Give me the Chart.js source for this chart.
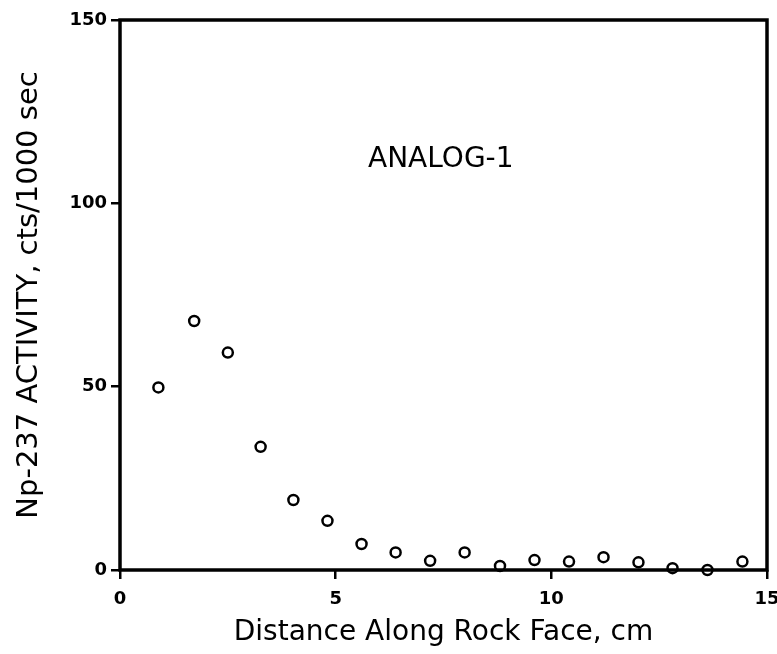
<!DOCTYPE html>
<html>
<head>
<meta charset="utf-8">
<script src="https://cdn.jsdelivr.net/npm/chart.js@4"></script>
<style>
  body { margin: 0; background: #fff; }
  #wrap { width: 777px; height: 654px; }
</style>
</head>
<body>
<div id="wrap"><canvas id="activityChart" width="777" height="654"></canvas></div>
<script>
// Data
const distanceCm = [0.89, 1.72, 2.5, 3.26, 4.02, 4.81, 5.6, 6.39, 7.19, 7.99, 8.81, 9.61, 10.41, 11.21, 12.02, 12.81, 13.62, 14.43];
const activity = [49.8, 67.9, 59.3, 33.6, 19.1, 13.4, 7.1, 4.8, 2.5, 4.8, 1.1, 2.7, 2.3, 3.5, 2.1, 0.5, 0, 2.3];
const xTicks = [0, 5, 10, 15];
const yTicks = [0, 50, 100, 150];
const sampleLabel = "ANALOG-1";

const FONT = "'DejaVu Sans', sans-serif";

// Frame round the plot area plus the sample label
const framePlugin = {
  id: "frame",
  afterDraw(chart) {
    const { ctx, chartArea, scales } = chart;
    ctx.save();
    ctx.strokeStyle = "#000";
    ctx.lineWidth = 3.5;
    ctx.strokeRect(chartArea.left, chartArea.top, chartArea.right - chartArea.left, chartArea.bottom - chartArea.top);

    ctx.fillStyle = "#000";
    ctx.font = "28px " + FONT;
    ctx.textAlign = "left";
    ctx.textBaseline = "middle";
    ctx.fillText(sampleLabel, scales.x.getPixelForValue(5.75), scales.y.getPixelForValue(112));
    ctx.restore();
  },
};

const points = distanceCm.map((x, i) => ({ x: x, y: activity[i] }));

new Chart(document.getElementById("activityChart"), {
  type: "scatter",
  data: {
    datasets: [
      {
        data: points,
        pointStyle: "circle",
        pointRadius: 5,
        pointBorderWidth: 2.5,
        pointBorderColor: "#000",
        pointBackgroundColor: "#fff",
        clip: false,
      },
    ],
  },
  options: {
    responsive: false,
    animation: false,
    layout: { padding: { top: 20, right: 10, left: 0, bottom: 0 } },
    plugins: {
      legend: { display: false },
      tooltip: { enabled: false },
    },
    scales: {
      x: {
        type: "linear",
        min: 0,
        max: 15,
        afterBuildTicks: (axis) => { axis.ticks = xTicks.map((v) => ({ value: v })); },
        afterFit: (axis) => {
          axis.height = 84;
          axis.paddingRight = 0;
          axis.paddingLeft = 0;
        },
        ticks: { color: "#000", font: { family: FONT, size: 18, weight: "bold" }, padding: 10 },
        grid: { drawOnChartArea: false, drawTicks: true, tickLength: 9, color: "#000", lineWidth: 2.5 },
        border: { display: false },
        title: {
          display: true,
          text: "Distance Along Rock Face, cm",
          color: "#000",
          font: { family: FONT, size: 28 },
          padding: { top: 0 },
        },
      },
      y: {
        type: "linear",
        min: 0,
        max: 150,
        afterBuildTicks: (axis) => { axis.ticks = yTicks.map((v) => ({ value: v })); },
        afterFit: (axis) => {
          axis.width = 120;
          axis.paddingTop = 0;
        },
        ticks: { color: "#000", font: { family: FONT, size: 18, weight: "bold" }, padding: 4 },
        grid: { drawOnChartArea: false, drawTicks: true, tickLength: 9, color: "#000", lineWidth: 2.5 },
        border: { display: false },
        title: {
          display: true,
          text: "Np-237 ACTIVITY, cts/1000 sec",
          color: "#000",
          font: { family: FONT, size: 29 },
          padding: { top: 12, bottom: 4 },
        },
      },
    },
  },
  plugins: [framePlugin],
});
</script>
</body>
</html>
